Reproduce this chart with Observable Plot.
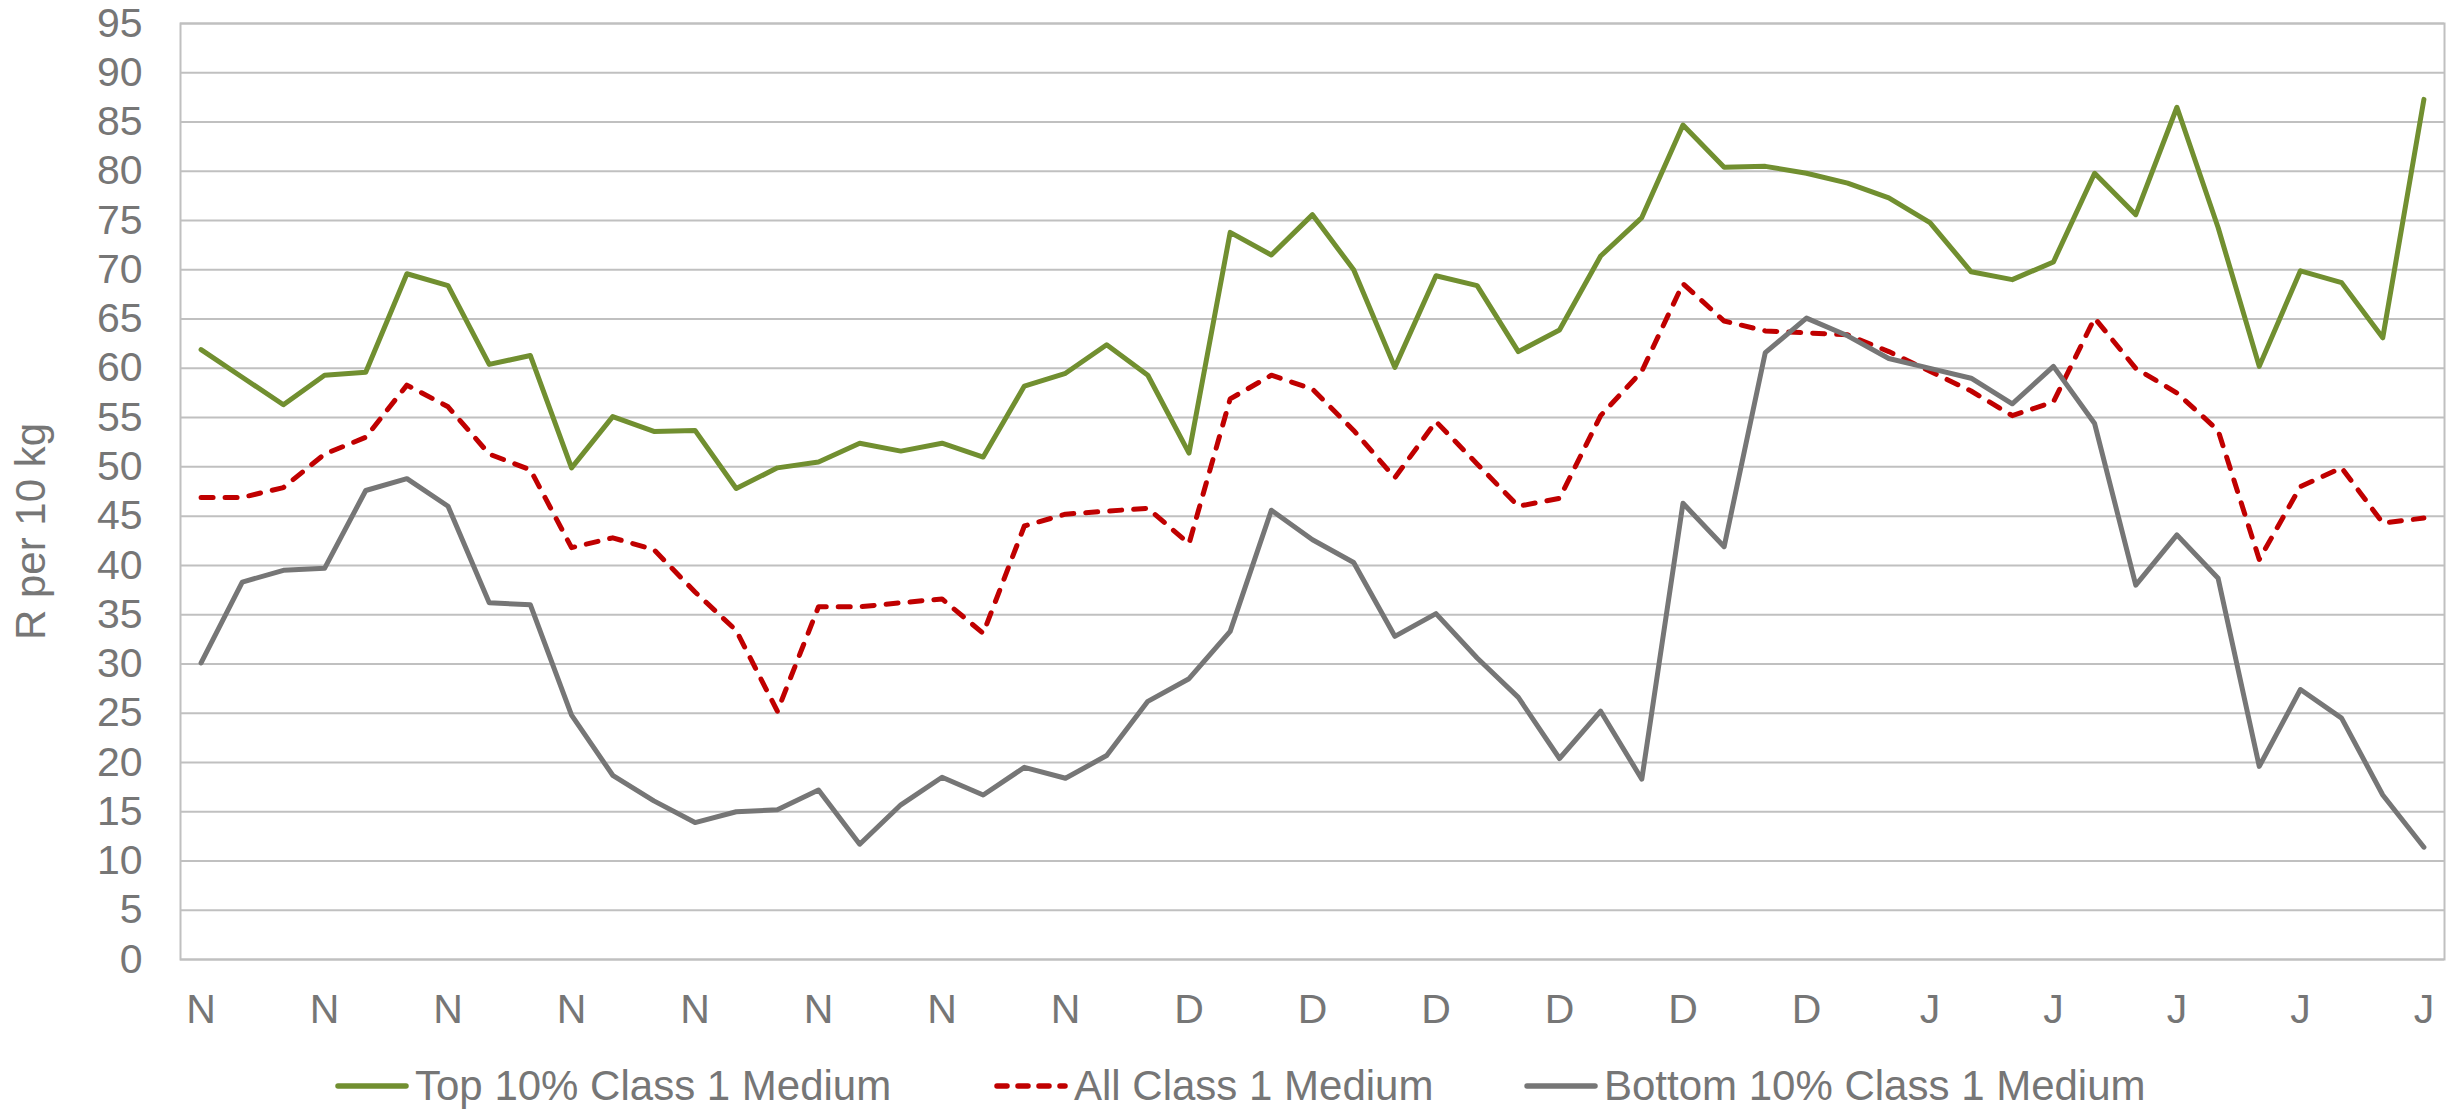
<!DOCTYPE html>
<html><head><meta charset="utf-8">
<script src="https://cdn.jsdelivr.net/npm/d3@7"></script>
<script src="https://cdn.jsdelivr.net/npm/@observablehq/plot@0.6"></script>
<style>
body{margin:0;background:#fff;font-family:"Liberation Sans",Arial,sans-serif;}
#wrap{position:relative;width:2463px;height:1109px;overflow:hidden;}
#wrap > svg{position:absolute;left:0;top:0;}
.leg{position:absolute;top:1062px;height:48px;display:flex;align-items:center;font-size:42px;color:#767676;white-space:nowrap;}
.leg svg{margin-right:6px;display:block}
</style></head><body><div id="wrap"></div>
<script>
const tickLabels = ["N","N","N","N","N","N","N","N","D","D","D","D","D","D","J","J","J","J","J"];
const seriesNames = ["Top 10% Class 1 Medium", "All Class 1 Medium", "Bottom 10% Class 1 Medium"];
const yLabel = "R per 10 kg";
const top10 = [
  61.9, 59.1, 56.3, 59.3, 59.6, 69.6, 68.4, 60.4, 61.3, 49.9,
  55.1, 53.6, 53.7, 47.8, 49.9, 50.5, 52.4, 51.6, 52.4, 51.0,
  58.2, 59.5, 62.4, 59.3, 51.4, 73.8, 71.5, 75.6, 70.0, 60.1,
  69.4, 68.4, 61.7, 63.9, 71.4, 75.3, 84.7, 80.4, 80.5, 79.8,
  78.8, 77.3, 74.8, 69.8, 69.0, 70.8, 79.8, 75.6, 86.5, 74.3,
  60.2, 69.9, 68.7, 63.1, 87.3
];
const allClass1 = [
  46.9, 46.9, 47.9, 51.3, 53.0, 58.3, 56.1, 51.3, 49.7, 41.8,
  42.8, 41.6, 37.3, 33.4, 25.2, 35.8, 35.8, 36.2, 36.6, 33.1,
  44.0, 45.2, 45.5, 45.8, 42.2, 56.9, 59.3, 57.9, 53.7, 48.9,
  54.6, 50.3, 46.0, 46.8, 55.2, 59.7, 68.6, 64.8, 63.8, 63.6,
  63.4, 61.7, 59.7, 57.7, 55.2, 56.6, 65.1, 60.0, 57.5, 53.7,
  40.6, 48.0, 49.9, 44.3, 44.8
];
const bottom10 = [
  30.1, 38.3, 39.5, 39.7, 47.6, 48.8, 46.0, 36.2, 36.0, 24.8,
  18.7, 16.1, 13.9, 15.0, 15.2, 17.2, 11.7, 15.7, 18.5, 16.7,
  19.5, 18.4, 20.7, 26.2, 28.5, 33.3, 45.6, 42.6, 40.3, 32.8,
  35.1, 30.6, 26.6, 20.4, 25.2, 18.3, 46.3, 41.9, 61.6, 65.1,
  63.3, 61.0, 60.0, 59.0, 56.4, 60.2, 54.4, 38.0, 43.1, 38.7,
  19.6, 27.4, 24.5, 16.7, 11.4
];

const colors = ["#718f30", "#c00000", "#767676"];
const dashes = [null, "12,12", null];
const valuesList = [top10, allClass1, bottom10];
const idx = d3.range(top10.length);
const xTicks = d3.range(0, top10.length, 3);
const yTicks = d3.range(0, 100, 5);

const lineMarks = valuesList.map((vals, k) => Plot.line(idx, {
  x: d => d, y: d => vals[d],
  stroke: colors[k], strokeWidth: 5,
  strokeDasharray: dashes[k] || undefined,
  strokeLinecap: "round",
  strokeLinejoin: "round"
}));

const chart = Plot.plot({
  width: 2463, height: 1040,
  marginLeft: 180, marginRight: 19, marginTop: 23, marginBottom: 81,
  style: {fontFamily: "'Liberation Sans', Arial, sans-serif", fontSize: "41px", color: "#767676", background: "white"},
  x: {type: "linear", domain: [-0.5, top10.length - 0.5]},
  y: {domain: [0, 95]},
  marks: [
    Plot.gridY(yTicks, {stroke: "#c0c0c0", strokeOpacity: 1, strokeWidth: 2}),
    Plot.frame({stroke: "#c0c0c0", strokeWidth: 2}),
    Plot.axisY(yTicks, {tickSize: 0, tickPadding: 38, label: null, fontSize: 41}),
    Plot.axisX(xTicks, {tickSize: 0, tickPadding: 34, label: null, fontSize: 41, tickFormat: d => tickLabels[d / 3]}),
    Plot.text([yLabel], {frameAnchor: "left", textAnchor: "middle", lineAnchor: "middle", dx: -149, dy: 40, rotate: -90, fontSize: 42, fill: "#767676"}),
    ...lineMarks
  ]
});
const wrap = document.getElementById("wrap");
wrap.appendChild(chart);

const legLefts = [335, 994, 1524];
seriesNames.forEach((name, k) => {
  const item = document.createElement("div");
  item.className = "leg";
  item.style.left = legLefts[k] + "px";
  const dash = dashes[k] ? `stroke-dasharray="10,11"` : "";
  item.innerHTML = `<svg width="74" height="12"><line x1="3" y1="6" x2="71" y2="6" stroke="${colors[k]}" stroke-width="5.5" stroke-linecap="round" ${dash}/></svg><span>${name}</span>`;
  wrap.appendChild(item);
});
</script></body></html>
